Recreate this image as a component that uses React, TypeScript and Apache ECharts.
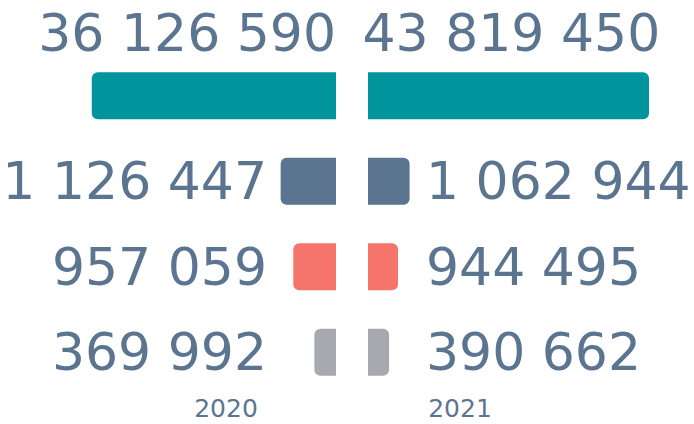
import { useEffect, useRef } from "react";
import * as echarts from "echarts";

// Data
const categories = ["Row 1", "Row 2", "Row 3", "Row 4"];
const years = ["2020", "2021"];
const values2020 = [36126590, 1126447, 957059, 369992];
const values2021 = [43819450, 1062944, 944495, 390662];
// Bar lengths as drawn in the picture, on the chart's own index (longest bar = 100)
const barSize2020 = [86.9, 19.7, 15.2, 7.7];
const barSize2021 = [100, 14.8, 10.7, 7.5];

const barColors = ["#00959d", "#5b7490", "#f5756c", "#a8a9ae"];
const TEXT = "#5b7591";
const FONT = "DejaVu Sans";

const fmt = (n: number) => String(n).replace(/\B(?=(\d{3})+(?!\d))/g, " ");

function yAx(
  gridIndex: number,
  position: "left" | "right",
  offset: number,
  formatter: (v: string, i: number) => string,
  raised: boolean
) {
  return {
    gridIndex,
    type: "category",
    data: categories,
    inverse: true,
    position,
    offset,
    axisLine: { show: false, onZero: false },
    axisTick: { show: false },
    splitLine: { show: false },
    axisLabel: {
      interval: 0,
      margin: 0,
      formatter,
      fontFamily: FONT,
      fontSize: 52,
      color: TEXT,
      ...(raised ? { verticalAlign: "bottom", lineHeight: 126 } : {}),
    },
  };
}

export default function App() {
  const ref = useRef<HTMLDivElement>(null);
  useEffect(() => {
    if (!ref.current) return;
    const chart = echarts.init(ref.current, undefined, { renderer: "svg" });
    const option: any = {
      animation: false,
      grid: [
        { left: 55, width: 281, top: 53, height: 342, outerBoundsMode: "none" },
        { left: 368, width: 281, top: 53, height: 342, outerBoundsMode: "none" },
      ],
      xAxis: [
        { gridIndex: 0, type: "value", min: 0, max: 100, inverse: true, show: false },
        { gridIndex: 1, type: "value", min: 0, max: 100, show: false },
      ],
      yAxis: [
        yAx(0, "left", -212, (_v, i) => (i === 0 ? "" : fmt(values2020[i])), false),
        yAx(0, "left", -281, (_v, i) => (i === 0 ? fmt(values2020[0]) : ""), true),
        yAx(1, "right", -223, (_v, i) => (i === 0 ? "" : fmt(values2021[i])), false),
        yAx(1, "right", -286.5, (_v, i) => (i === 0 ? fmt(values2021[0]) : ""), true),
      ],
      series: [
        {
          type: "bar",
          xAxisIndex: 0,
          yAxisIndex: 0,
          barWidth: 47,
          data: barSize2020.map((v, i) => ({ value: v, itemStyle: { color: barColors[i] } })),
          itemStyle: { borderRadius: [6, 0, 0, 6] },
        },
        {
          type: "bar",
          xAxisIndex: 1,
          yAxisIndex: 2,
          barWidth: 47,
          data: barSize2021.map((v, i) => ({ value: v, itemStyle: { color: barColors[i] } })),
          itemStyle: { borderRadius: [0, 6, 6, 0] },
        },
      ],
      graphic: [
        {
          type: "text",
          x: 226,
          y: 408,
          style: { text: years[0], fill: TEXT, fontFamily: FONT, fontSize: 25, align: "center", verticalAlign: "middle" },
        },
        {
          type: "text",
          x: 460,
          y: 408,
          style: { text: years[1], fill: TEXT, fontFamily: FONT, fontSize: 25, align: "center", verticalAlign: "middle" },
        },
      ],
    };
    chart.setOption(option);
    return () => chart.dispose();
  }, []);
  return (
    <div
      ref={ref}
      style={{ position: "fixed", left: 0, top: 0, width: 694, height: 424, background: "#fff" }}
    />
  );
}
